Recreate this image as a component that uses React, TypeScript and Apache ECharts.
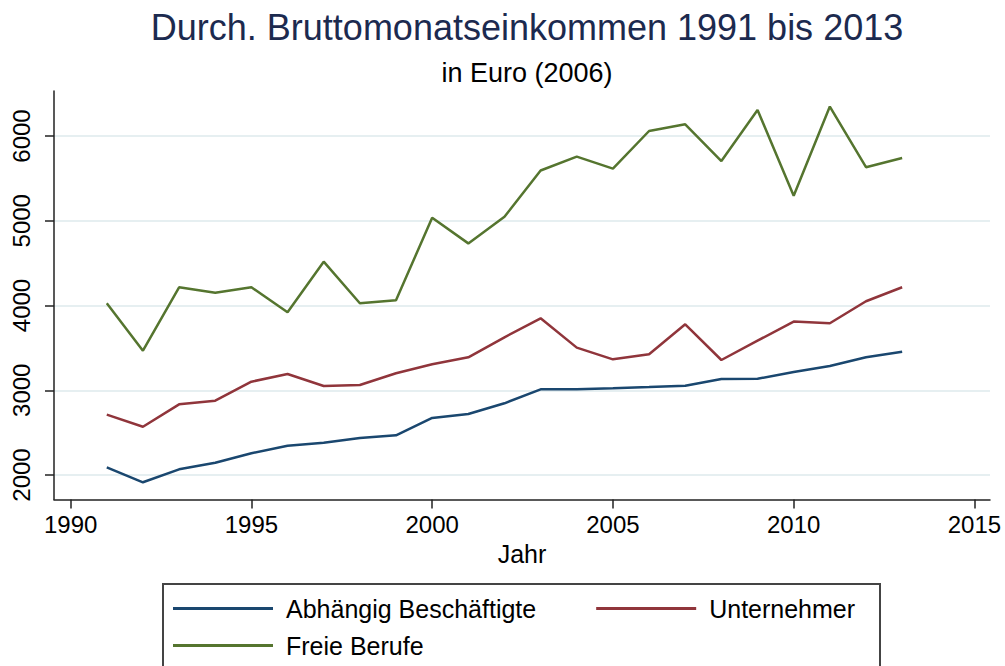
import React, { useEffect, useRef } from "react";
import * as echarts from "echarts";

const years = [1991, 1992, 1993, 1994, 1995, 1996, 1997, 1998, 1999, 2000, 2001, 2002, 2003, 2004, 2005, 2006, 2007, 2008, 2009, 2010, 2011, 2012, 2013];
const abhaengig = [2091, 1914, 2067, 2145, 2256, 2346, 2381, 2437, 2468, 2673, 2720, 2846, 3011, 3011, 3023, 3038, 3054, 3133, 3136, 3215, 3286, 3389, 3455];
const unternehmer = [2712, 2570, 2834, 2877, 3101, 3192, 3050, 3062, 3200, 3306, 3389, 3625, 3849, 3503, 3365, 3424, 3778, 3357, 3585, 3810, 3790, 4050, 4215];
const freieBerufe = [4026, 3467, 4215, 4151, 4215, 3920, 4517, 4026, 4061, 5036, 4733, 5047, 5593, 5757, 5615, 6059, 6138, 5705, 6307, 5296, 6347, 5632, 5740];
const xTicks = [1990, 1995, 2000, 2005, 2010, 2015];
const yTicks = [2000, 3000, 4000, 5000, 6000];

const seriesNames = ["Abhängig Beschäftigte", "Unternehmer", "Freie Berufe"];
const colors = ["#1a476f", "#90353b", "#55752f"];
const FONT = "'Liberation Sans', Arial, sans-serif";

export default function App() {
  const ref = useRef<HTMLDivElement>(null);
  useEffect(() => {
    if (!ref.current) return;
    const chart = echarts.init(ref.current, undefined, { renderer: "svg" });
    const toPairs = (vals: number[]) => years.map((y, i) => [y, vals[i]]);
    const legendCommon = {
      orient: "horizontal" as const,
      left: 173,
      itemWidth: 100,
      itemHeight: 3,
      itemGap: 60,
      icon: "rect",
      padding: 0,
      textStyle: { fontFamily: FONT, fontSize: 25, color: "#000", lineHeight: 25, padding: [0, 0, 0, 8] },
    };
    chart.setOption({
      animation: false,
      backgroundColor: "#fff",
      color: colors,
      textStyle: { fontFamily: FONT },
      title: [
        {
          text: "Durch. Bruttomonatseinkommen 1991 bis 2013",
          left: 522,
          top: 4,
          textAlign: "center",
          textStyle: { fontFamily: FONT, fontSize: 36, fontWeight: "normal", color: "#1c2a4f" },
        },
        {
          text: "in Euro (2006)",
          left: 522,
          top: 54,
          textAlign: "center",
          textStyle: { fontFamily: FONT, fontSize: 27, fontWeight: "normal", color: "#000" },
        },
      ],
      grid: { left: 54, right: 15, top: 91, bottom: 166.5, containLabel: false },
      xAxis: {
        type: "value",
        min: 1989.54,
        max: 2015.43,
        name: "Jahr",
        nameLocation: "middle",
        nameGap: 41,
        nameTextStyle: { fontFamily: FONT, fontSize: 25, color: "#000" },
        axisLine: { show: true, onZero: false, lineStyle: { color: "#222", width: 1.5 } },
        axisTick: { show: true, length: 9, customValues: xTicks, lineStyle: { color: "#222", width: 1.5 } },
        axisLabel: { customValues: xTicks, formatter: (v: number) => String(v), fontFamily: FONT, fontSize: 24, color: "#000", margin: 13 },
        splitLine: { show: false },
      },
      yAxis: {
        type: "value",
        min: 1711,
        max: 6531,
        axisLine: { show: true, lineStyle: { color: "#222", width: 1.5 } },
        axisTick: { show: true, length: 9, customValues: yTicks, lineStyle: { color: "#222", width: 1.5 } },
        axisLabel: { customValues: yTicks, formatter: (v: number) => String(v), rotate: 90, fontFamily: FONT, fontSize: 24, color: "#000", margin: 21 },
        splitLine: { show: true, lineStyle: { color: "#e6eff1", width: 2 } },
      },
      legend: [
        { ...legendCommon, top: 596, data: [seriesNames[0], seriesNames[1]] },
        { ...legendCommon, top: 633, data: [seriesNames[2]] },
      ],
      graphic: [
        {
          type: "rect",
          shape: { x: 163, y: 584, width: 717, height: 120 },
          style: { fill: "none", stroke: "#444", lineWidth: 2 },
          silent: true,
        },
      ],
      series: [
        { name: seriesNames[0], type: "line", data: toPairs(abhaengig), showSymbol: false, symbol: "none", lineStyle: { width: 2.5, color: colors[0] }, itemStyle: { color: colors[0] } },
        { name: seriesNames[1], type: "line", data: toPairs(unternehmer), showSymbol: false, symbol: "none", lineStyle: { width: 2.5, color: colors[1] }, itemStyle: { color: colors[1] } },
        { name: seriesNames[2], type: "line", data: toPairs(freieBerufe), showSymbol: false, symbol: "none", lineStyle: { width: 2.5, color: colors[2] }, itemStyle: { color: colors[2] } },
      ],
    });
    return () => chart.dispose();
  }, []);
  return <div ref={ref} style={{ width: 1005, height: 666, position: "absolute", left: 0, top: 0 }} />;
}
